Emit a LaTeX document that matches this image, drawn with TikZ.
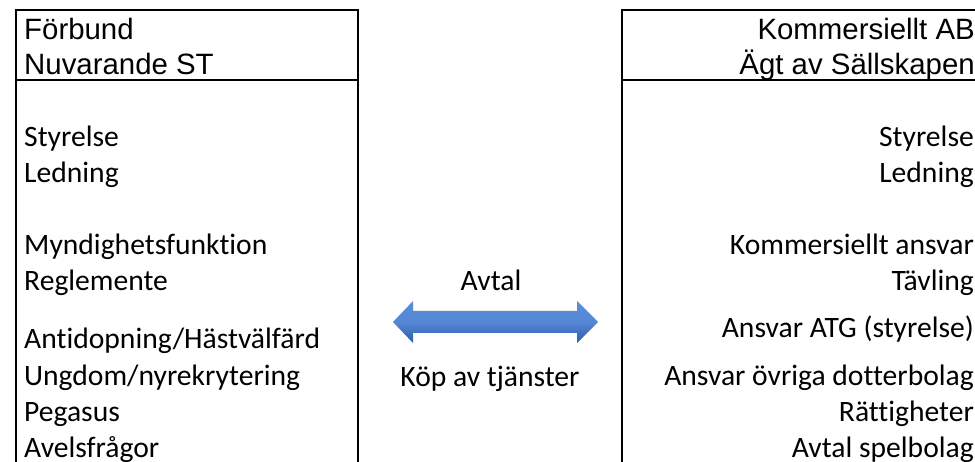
\documentclass[tikz,border=0pt]{standalone}
\usepackage{fontspec}
\setmainfont[Ligatures={NoCommon,NoContextual}]{Carlito}
\newfontfamily\hdrfont{Liberation Sans}
\definecolor{arrtop}{HTML}{5A8CDB}
\definecolor{arrbot}{HTML}{2C5CAA}
\tikzset{
  frame/.style={draw=black, line width=1.3pt},
  hdr/.style={font=\hdrfont\fontsize{29.4}{29.4}\selectfont, inner sep=0pt},
  body/.style={font=\fontsize{29.6}{29.6}\selectfont, inner sep=0pt},
  lt/.style={body, anchor=base west},
  rt/.style={body, anchor=base east},
}
\begin{document}
\begin{tikzpicture}[x=1pt,y=-1pt]
\useasboundingbox (0,0) rectangle (975,462);
\clip (0,0) rectangle (975,462);
% left box
\draw[frame] (16,470) -- (16,10) -- (358,10) -- (358,470);
\draw[frame] (16,80) -- (358,80);
% right box
\draw[frame] (990,10) -- (622,10) -- (622,470);
\draw[frame] (622,80) -- (990,80);
% headers
\node[hdr, anchor=base west] (h1) at (24,40) {Förbund};
\node[hdr, anchor=base west] (h2) at (24,75) {Nuvarande ST};
\node[hdr, anchor=base east] (k1) at (975,40) {Kommersiellt AB};
\node[hdr, anchor=base east] (k2) at (975,75) {Ägt av Sällskapen};
% left items
\node[lt] (l1) at (24,147) {Styrelse};
\node[lt] (l2) at (24,183) {Ledning};
\node[lt] (l3) at (24,255) {Myndighetsfunktion};
\node[lt] (l4) at (24,291) {Reglemente};
\node[lt] (l5) at (24,349) {Antidopning/Hästvälfärd};
\node[lt] (l6) at (24,385) {Ungdom/nyrekrytering};
\node[lt] (l7) at (24,421) {Pegasus};
\node[lt] (l8) at (24,457) {Avelsfrågor};
% right items
\node[rt] (r1) at (974,147) {Styrelse};
\node[rt] (r2) at (974,183) {Ledning};
\node[rt] (r3) at (974,255) {Kommersiellt ansvar};
\node[rt] (r4) at (974,291) {Tävling};
\node[rt] (r5) at (974,338) {Ansvar ATG (styrelse)};
\node[rt] (r6) at (974,385) {Ansvar övriga dotterbolag};
\node[rt] (r7) at (974,421) {Rättigheter};
\node[rt] (r8) at (974,457) {Avtal spelbolag};
% middle
\node[body, anchor=base] (avtal) at (491,291) {Avtal};
\node[body, anchor=base] (kop) at (490,387) {Köp av tjänster};
\shade[top color=arrtop, bottom color=arrbot, middle color=arrtop!90!arrbot]
  (393,322) -- (413,301) -- (413,311) -- (577,311) -- (577,301) -- (598,322)
  -- (577,343) -- (577,333) -- (413,333) -- (413,343) -- cycle;
\end{tikzpicture}
\end{document}
